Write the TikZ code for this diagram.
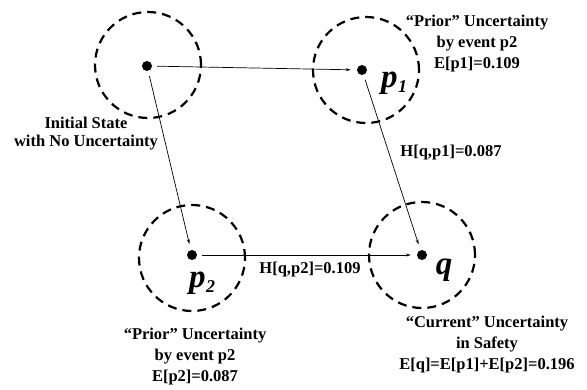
\documentclass[tikz,border=0pt]{standalone}
\usepackage{fontspec}
\setmainfont{Liberation Serif}
\usetikzlibrary{arrows.meta}
\begin{document}
\begin{tikzpicture}[x=1pt,y=1pt,
  zone/.style={circle,draw,line width=2.2pt,dash pattern=on 9pt off 6pt,minimum size=106pt,inner sep=0pt},
  dot/.style={circle,fill,inner sep=0pt,minimum size=10pt},
  conn/.style={line width=0.7pt,-{Stealth[length=5pt,width=3pt]},shorten <=5pt,shorten >=6pt},
  lbl/.style={font=\bfseries\fontsize{16.5}{21}\selectfont,align=center,inner sep=0pt},
  pname/.style={font=\bfseries\itshape\fontsize{33}{33}\selectfont,inner sep=0pt}]
\useasboundingbox (0,0) rectangle (587,389);
% zones
\node[zone] (z0) at (148,324) {};
\node[zone] (z1) at (366,319) {};
\node[zone] (z2) at (192,131) {};
\node[zone] (zq) at (422,134) {};
% dots
\node[dot] (s0) at (147,323) {};
\node[dot] (p1) at (362,319) {};
\node[dot] (p2) at (192,134) {};
\node[dot] (q) at (422,134) {};
% connectors
\draw[conn] (s0) -- (p1);
\draw[conn] (s0) -- (p2);
\draw[conn] (p1) -- (q);
\draw[conn] (p2) -- (q);
% point names
\node[pname] (n1) at (394,306) {p\kern0.5pt\raisebox{-5pt}{\fontsize{18}{18}\selectfont 1}};
\node[pname] (n2) at (202,106) {p\kern0.5pt\raisebox{-5pt}{\fontsize{18}{18}\selectfont 2}};
\node[pname] (nq) at (444,119) {q};
% labels
\node[lbl,font=\bfseries\fontsize{16.5}{18}\selectfont] (t0) at (86,255) {Initial State\\with No Uncertainty};
\node[lbl] (t1) at (477,345) {“Prior” Uncertainty\\by event p2\\E[p1]=0.109};
\node[lbl] (h1) at (451,236) {H[q,p1]=0.087};
\node[lbl] (h2) at (310,119) {H[q,p2]=0.109};
\node[lbl] (t2) at (195,32) {“Prior” Uncertainty\\by event p2\\E[p2]=0.087};
\node[lbl] (tq) at (487,44) {“Current” Uncertainty\\in Safety\\E[q]=E[p1]+E[p2]=0.196};
\end{tikzpicture}
\end{document}
